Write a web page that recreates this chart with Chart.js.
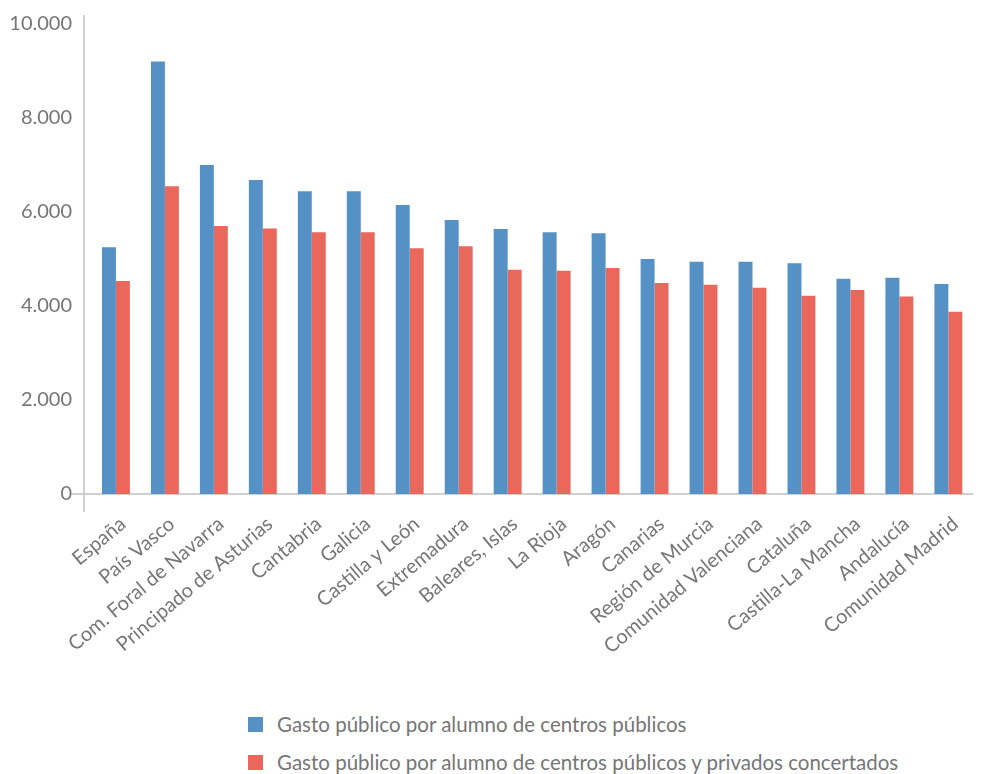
<!DOCTYPE html>
<html>
<head>
<meta charset="utf-8">
<script src="https://cdn.jsdelivr.net/npm/chart.js@4.4.0/dist/chart.umd.min.js"></script>
<style>
	body { margin: 0; background: #fff; font-family: Lato, sans-serif; }
	#wrap { position: relative; width: 982px; height: 774px; }
	#legend { position: absolute; left: 248px; top: 705px; color: #767676; font-size: 20.5px; }
	.item { display: flex; align-items: center; height: 38px; }
	.box { width: 15px; height: 15px; margin-right: 14px; }
</style>
</head>
<body>
<div id="wrap">
	<canvas id="chart" style="width:982px;height:700px"></canvas>
	<div id="legend"></div>
</div>
<script>
const regions = ['España', 'País Vasco', 'Com. Foral de Navarra', 'Principado de Asturias', 'Cantabria',
	'Galicia', 'Castilla y León', 'Extremadura', 'Baleares, Islas', 'La Rioja', 'Aragón', 'Canarias',
	'Región de Murcia', 'Comunidad Valenciana', 'Cataluña', 'Castilla-La Mancha', 'Andalucía', 'Comunidad Madrid'];
const publicos = [5250, 9200, 7000, 6680, 6440, 6440, 6150, 5830, 5640, 5570, 5550, 5000, 4940, 4940, 4910, 4580, 4600, 4470];
const concertados = [4530, 6550, 5700, 5650, 5570, 5570, 5230, 5270, 4770, 4750, 4810, 4490, 4450, 4390, 4220, 4340, 4200, 3880];
const seriesNames = ['Gasto público por alumno de centros públicos',
	'Gasto público por alumno de centros públicos y privados concertados'];
const colors = ['#5591c5', '#e9675b'];
const yTicks = [0, 2000, 4000, 6000, 8000, 10000];

const textColor = '#767676';
const axisColor = '#d0d0d0';

function fmt(v) {
	return String(v).replace(/\B(?=(\d{3})+(?!\d))/g, '.');
}

// y axis line + little extensions below/left of the origin
const axisLines = {
	id: 'axisLines',
	afterDraw(chart) {
		const { ctx, chartArea: a } = chart;
		ctx.save();
		ctx.strokeStyle = axisColor;
		ctx.lineWidth = 2;
		ctx.beginPath();
		ctx.moveTo(a.left, a.top - 9);
		ctx.lineTo(a.left, a.bottom + 18);
		ctx.moveTo(a.left - 12, a.bottom);
		ctx.lineTo(a.left, a.bottom);
		ctx.stroke();
		ctx.restore();
	}
};

new Chart(document.getElementById('chart'), {
	type: 'bar',
	data: {
		datasets: [publicos, concertados].map((vals, k) => ({
			label: seriesNames[k],
			data: vals.map((v, i) => ({ x: i, y: v })),
			backgroundColor: colors[k],
			categoryPercentage: 0.57,
			barPercentage: 1
		}))
	},
	options: {
		responsive: false,
		animation: false,
		layout: { padding: { top: 22, right: 8, left: 0, bottom: 0 } },
		plugins: { legend: { display: false }, tooltip: { enabled: false } },
		scales: {
			x: {
				type: 'linear',
				offset: false,
				min: -0.652,
				max: 17.49,
				grid: { display: false, drawTicks: false },
				border: { display: true, color: axisColor, width: 2 },
				afterFit: (s) => { s.height = 206; },
				afterBuildTicks: (s) => { s.ticks = regions.map((r, i) => ({ value: i })); },
				ticks: {
					autoSkip: false,
					minRotation: 40,
					maxRotation: 40,
					padding: 18,
					labelOffset: 7,
					color: textColor,
					font: { family: 'Lato', size: 20 },
					callback: (v) => regions[v]
				}
			},
			y: {
				min: 0,
				max: 10000,
				grid: { display: false, drawTicks: false },
				border: { display: false },
				afterFit: (s) => { s.width = 84; },
				afterBuildTicks: (s) => { s.ticks = yTicks.map((v) => ({ value: v })); },
				ticks: {
					padding: 12,
					color: textColor,
					font: { family: 'Lato', size: 20 },
					callback: (v) => fmt(v)
				}
			}
		}
	},
	plugins: [axisLines]
});

let legend = document.getElementById('legend');
seriesNames.forEach((name, k) => {
	legend.innerHTML += '<div class="item"><span class="box" style="background:' + colors[k] + '"></span>' + name + '</div>';
});
</script>
</body>
</html>
